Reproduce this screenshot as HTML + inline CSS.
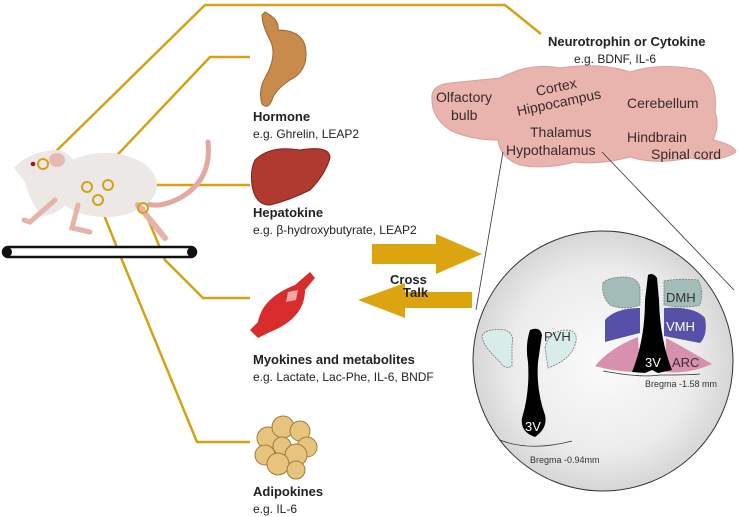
<!DOCTYPE html>
<html><head><meta charset="utf-8"><style>
html,body{margin:0;padding:0;background:#fff;}
svg{display:block;font-family:"Liberation Sans",sans-serif;}
</style></head><body>
<svg width="739" height="517" viewBox="0 0 739 517" xmlns="http://www.w3.org/2000/svg">
<defs>
<radialGradient id="cg" cx="0.5" cy="0.5" r="0.5">
<stop offset="0" stop-color="#fbfbfb"/><stop offset="0.7" stop-color="#ececec"/><stop offset="1" stop-color="#d6d6d6"/>
</radialGradient>
</defs>
<!-- connector lines -->
<g fill="none" stroke="#d4a215" stroke-width="2.5">
<polyline points="43,164 205,5 505,5 541,34"/>
<polyline points="87,187 210,57 250,57"/>
<polyline points="108,185 250,185"/>
<polyline points="143,207 165,260 203,298 250,298"/>
<polyline points="98,200 122,260 197,442 250,442"/>
</g>
<!-- mouse -->
<path d="M208,142 Q212,180 180,198 Q160,208 148,204" fill="none" stroke="#e2a9a2" stroke-width="5" stroke-linecap="round"/>
<ellipse cx="105" cy="185" rx="52" ry="32" fill="#ebe8e6"/>
<path d="M14,168 Q30,150 60,150 Q85,160 75,192 Q62,215 42,216 Q30,202 25,182 Z" fill="#ebe8e6"/>
<path d="M55,200 L30,222 L24,220" stroke="#e7b2aa" stroke-width="5" fill="none" stroke-linecap="round"/>
<path d="M78,205 L72,228 L90,232" stroke="#e7b2aa" stroke-width="5" fill="none" stroke-linecap="round"/>
<path d="M138,205 L165,238" stroke="#e7b2aa" stroke-width="6" fill="none" stroke-linecap="round"/>
<ellipse cx="57" cy="160" rx="8" ry="7" fill="#e8b9b3"/>
<circle cx="33" cy="164" r="2.3" fill="#a01a1a"/>
<g fill="none" stroke="#d4a215" stroke-width="2">
<circle cx="43" cy="164" r="5"/><circle cx="87" cy="187" r="5"/><circle cx="108" cy="185" r="5"/><circle cx="98" cy="200" r="5"/><circle cx="143" cy="208" r="5"/>
</g>
<!-- treadmill -->
<rect x="3" y="247" width="193" height="10" rx="5" fill="#fff" stroke="#111" stroke-width="2.5"/>
<circle cx="7" cy="252" r="5" fill="#111"/><circle cx="192" cy="252" r="5" fill="#111"/>
<!-- stomach -->
<path d="M265,12 Q280,20 278,30 Q300,30 305,45 Q310,70 290,80 Q275,90 272,100 Q268,110 262,104 Q258,90 265,78 Q278,55 270,40 Q262,25 262,15 Z" fill="#c88b4c" stroke="#9c6630" stroke-width="1"/>
<!-- liver -->
<path d="M255,160 Q270,145 300,150 Q330,145 330,158 Q325,175 310,190 Q290,200 270,205 Q255,205 252,185 Q250,170 255,160 Z" fill="#b13a30" stroke="#7c2019" stroke-width="1"/>
<!-- muscle -->
<path d="M250,330 L258,322 Q262,298 295,285 L310,272 L315,278 L305,290 Q305,318 270,332 L258,338 Z" fill="#d92c2c"/>
<path d="M288,292 L298,290 L296,300 L286,302 Z" fill="#f3a7a7"/>
<!-- adipose -->
<g fill="#e6c47d" stroke="#a07c38" stroke-width="1">
<circle cx="268" cy="438" r="11"/><circle cx="283" cy="427" r="11"/><circle cx="300" cy="431" r="10"/><circle cx="307" cy="447" r="10"/><circle cx="282" cy="446" r="9"/><circle cx="296" cy="455" r="11"/><circle cx="265" cy="455" r="10"/><circle cx="278" cy="464" r="11"/><circle cx="296" cy="470" r="9"/>
</g>
<!-- labels left -->
<g fill="#222">
<text x="253" y="121" font-size="13" font-weight="bold">Hormone</text>
<text x="253" y="138" font-size="12">e.g. Ghrelin, LEAP2</text>
<text x="253" y="217" font-size="13" font-weight="bold">Hepatokine</text>
<text x="253" y="234" font-size="12">e.g. β-hydroxybutyrate, LEAP2</text>
<text x="253" y="364" font-size="13" font-weight="bold">Myokines and metabolites</text>
<text x="253" y="381" font-size="12">e.g. Lactate, Lac-Phe, IL-6, BNDF</text>
<text x="253" y="496" font-size="13" font-weight="bold">Adipokines</text>
<text x="253" y="513" font-size="12">e.g. IL-6</text>
</g>
<!-- cross talk arrows -->
<polygon points="372,244 436,244 436,234 482,254 436,274 436,264 372,264" fill="#dca40e"/>
<polygon points="472,292 405,292 405,283 358,300 405,318 405,308 472,308" fill="#dca40e"/>
<text x="390" y="284" font-size="13" font-weight="bold" fill="#222">Cross</text>
<text x="403" y="297" font-size="13" font-weight="bold" fill="#222">Talk</text>
<!-- brain -->
<path d="M432,100 Q430,85 450,83 Q480,80 500,78 Q530,62 560,68 Q600,62 630,72 Q660,62 700,70 Q718,80 715,112 Q720,125 713,140 Q735,145 736,152 Q720,163 690,158 Q655,165 630,157 Q600,165 575,162 Q545,170 520,165 Q500,158 498,140 Q470,140 450,130 Q432,118 432,100 Z" fill="#e8b4ad" stroke="#d9a09a" stroke-width="1"/>
<g fill="#3a2a2a" font-size="14">
<text x="537" y="96" transform="rotate(-12 537 96)">Cortex</text>
<text x="518" y="116" transform="rotate(-12 518 116)">Hippocampus</text>
<text x="436" y="102">Olfactory</text>
<text x="451" y="120">bulb</text>
<text x="627" y="108">Cerebellum</text>
<text x="530" y="137">Thalamus</text>
<text x="506" y="155">Hypothalamus</text>
<text x="627" y="142">Hindbrain</text>
<text x="651" y="159">Spinal cord</text>
</g>
<text x="548" y="46" font-size="13" font-weight="bold" fill="#222">Neurotrophin or Cytokine</text>
<text x="574" y="63" font-size="12" fill="#222">e.g. BDNF, IL-6</text>
<!-- zoom lines -->
<line x1="503" y1="152" x2="476" y2="310" stroke="#333" stroke-width="0.8"/>
<line x1="602" y1="152" x2="734" y2="290" stroke="#333" stroke-width="0.8"/>
<!-- circle -->
<circle cx="603" cy="361" r="130" fill="url(#cg)" stroke="#333" stroke-width="1"/>
<!-- left section -->
<path d="M482,336 Q485,328 505,330 Q515,334 512,345 L512,366 Q505,370 500,362 Q482,345 482,336 Z" fill="#d8ecea" stroke="#777" stroke-width="0.8" stroke-dasharray="2,1"/>
<path d="M545,348 Q548,332 565,330 Q580,330 575,345 Q570,360 548,368 Z" fill="#d8ecea" stroke="#777" stroke-width="0.8" stroke-dasharray="2,1"/>
<path d="M530,330 Q540,326 542,335 Q540,348 538,362 Q536,390 545,415 Q548,428 535,437 Q520,432 522,418 Q530,392 528,362 Q525,345 530,330 Z" fill="#000"/>
<text x="525" y="431" font-size="13" fill="#fff">3V</text>
<path d="M500,440 Q530,452 572,441" fill="none" stroke="#333" stroke-width="0.8"/>
<text x="530" y="463" font-size="9" fill="#333">Bregma -0.94mm</text>
<!-- right section -->
<path d="M603,283 Q608,277 625,277 Q640,278 640,290 L640,305 Q625,311 610,305 Q601,296 603,283 Z" fill="#a2bcb7" stroke="#777" stroke-width="0.8" stroke-dasharray="2,1"/>
<path d="M664,281 Q680,278 698,280 Q704,290 700,305 Q685,309 664,305 Z" fill="#a2bcb7" stroke="#777" stroke-width="0.8" stroke-dasharray="2,1"/>
<path d="M605,320 Q615,308 640,308 L640,333 Q620,338 605,342 Z" fill="#5651a8"/>
<path d="M664,308 Q695,306 705,318 Q708,335 700,343 L664,336 Z" fill="#5651a8"/>
<path d="M595,366 Q610,348 638,337 L640,372 Q615,372 595,366 Z" fill="#d791ae"/>
<path d="M666,338 Q685,348 712,364 Q690,374 666,372 Z" fill="#d791ae"/>
<path d="M648,275 Q653,272 657,278 L659,300 Q660,340 672,370 L658,373 L652,370 L645,373 L632,372 Q645,340 645,300 Z" fill="#000"/>
<text x="645" y="367" font-size="13" fill="#fff">3V</text>
<text x="666" y="302" font-size="13" fill="#333">DMH</text>
<text x="666" y="331" font-size="13" fill="#fff">VMH</text>
<text x="672" y="367" font-size="13" fill="#333">ARC</text>
<text x="544" y="341" font-size="13" fill="#333">PVH</text>
<path d="M603,371 Q640,378 660,375 Q690,375 700,374" fill="none" stroke="#333" stroke-width="0.8"/>
<text x="645" y="387" font-size="9" fill="#333">Bregma -1.58 mm</text>
</svg>
</body></html>
